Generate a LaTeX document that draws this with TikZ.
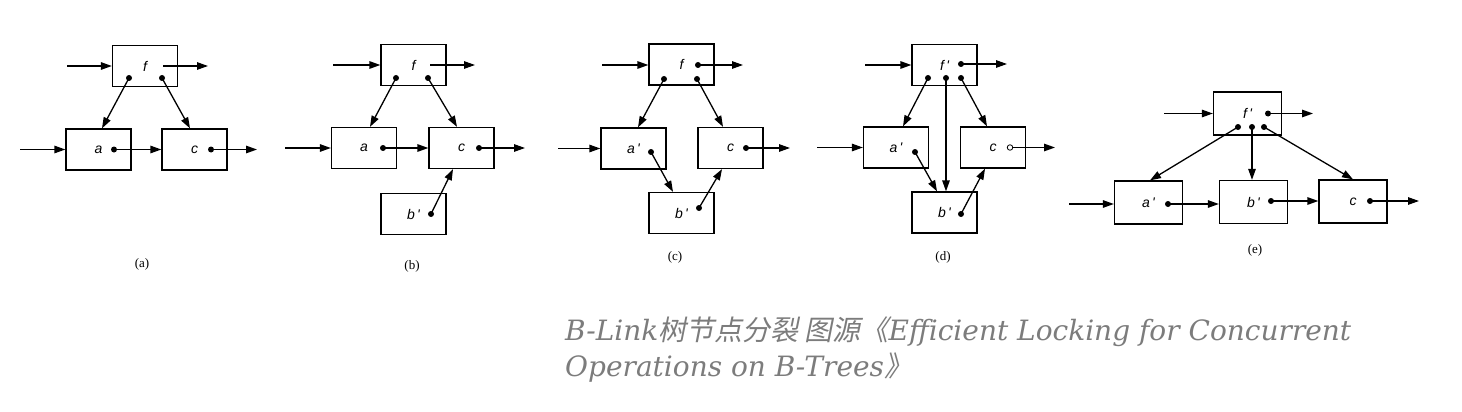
\documentclass[tikz,border=0pt]{standalone}
\usepackage{fontspec}
\setmainfont{Liberation Serif}
\newfontfamily\lblfont{Liberation Sans}
\newfontfamily\capfont{DejaVu Serif}
\newfontfamily\cjkfont[FakeSlant=0.2]{Noto Sans CJK SC}
\usetikzlibrary{arrows.meta, positioning}
\definecolor{capgray}{HTML}{7C7C7C}

\begin{document}
\begin{tikzpicture}[
  x=1pt, y=-1pt,
  box/.style={draw, line width=1.3pt, minimum width=65pt, minimum height=41pt,
              inner sep=0pt, font=\lblfont\itshape\fontsize{14}{14}\selectfont},
  wbox/.style={box, minimum width=68pt, minimum height=43pt},
  dot/.style={circle, fill, inner sep=0pt, minimum size=6pt},
  odot/.style={circle, draw, fill=white, line width=0.8pt, inner sep=0pt, minimum size=5.5pt},
  arr/.style={-{Triangle[length=11pt, width=7.5pt]}, line width=1.3pt},
  sub/.style={font=\fontsize{13}{13}\selectfont},
  caption/.style={anchor=north west, inner sep=0pt, align=left, text=capgray,
                  font=\capfont\itshape\fontsize{28}{36}\selectfont}
]
\useasboundingbox (0,0) rectangle (1462,412);

% (a)
\node[box] (fA) at (145,66) {f};
\node[box] (aA) at (98.5,149.5) {a};
\node[box] (cA) at (194.5,149.5) {c};
\node[dot] (fA1) at (129,78) {};
\node[dot] (fA2) at (162,78) {};
\node[dot] (aA1) at (114,149.5) {};
\node[dot] (cA1) at (211,149.5) {};
\coordinate (inFA) at (67,66);
\coordinate (inAA) at (20,149.5);
\coordinate (srcFA) at (163,66);
\coordinate (outFA) at (208,66);
\coordinate (outCA) at (257,149.5);
\draw[arr] (inFA) -- (inFA -| fA.west);
\draw[arr] (srcFA) -- (outFA);
\draw[arr] (fA1.center) -- ([xshift=3.5]aA.north);
\draw[arr] (fA2.center) -- ([xshift=-4.5]cA.north);
\draw[arr] (inAA) -- (inAA -| aA.west);
\draw[arr] (aA1.center) -- (aA1 -| cA.west);
\draw[arr] (cA1.center) -- (outCA);
\node[sub] (capA) at (142,264) {(a)};

% (b)
\node[box] (fB) at (413.5,65) {f};
\node[box] (aB) at (364,148) {a};
\node[box] (cB) at (461.5,148) {c};
\node[box] (bB) at (413.5,214) {b\,'};
\node[dot] (fB1) at (396,78) {};
\node[dot] (fB2) at (428,78) {};
\node[dot] (aB1) at (383,148) {};
\node[dot] (cB1) at (479,148) {};
\node[dot] (bB1) at (431,214) {};
\coordinate (inFB) at (333,65);
\coordinate (inAB) at (285,148);
\coordinate (srcFB) at (430,65);
\coordinate (outFB) at (475,65);
\coordinate (outCB) at (525,148);
\draw[arr] (inFB) -- (inFB -| fB.west);
\draw[arr] (srcFB) -- (outFB);
\draw[arr] (fB1.center) -- ([xshift=6]aB.north);
\draw[arr] (fB2.center) -- ([xshift=-4.5]cB.north);
\draw[arr] (inAB) -- (inAB -| aB.west);
\draw[arr] (aB1.center) -- (aB1 -| cB.west);
\draw[arr] (cB1.center) -- (outCB);
\draw[arr] (bB1.center) -- ([xshift=-8.5]cB.south);
\node[sub] (capB) at (412,266) {(b)};

% (c)
\node[box] (fC) at (681.5,64.5) {f};
\node[box] (aC) at (633.5,148.5) {a\,'};
\node[box] (cC) at (730.5,148) {c};
\node[box] (bC) at (681.5,213) {b\,'};
\node[dot] (fC0) at (698,65) {};
\node[dot] (fC1) at (664,79) {};
\node[dot] (fC2) at (697,79) {};
\node[dot] (aC1) at (651,152) {};
\node[dot] (cC1) at (746,148) {};
\node[dot] (bC1) at (699,208) {};
\coordinate (inFC) at (602,65);
\coordinate (inAC) at (558,148.5);
\coordinate (outFC) at (743,65);
\coordinate (outCC) at (790,148);
\draw[arr] (inFC) -- (inFC -| fC.west);
\draw[arr] (fC0.center) -- (outFC);
\draw[arr] (fC1.center) -- ([xshift=4.5]aC.north);
\draw[arr] (fC2.center) -- ([xshift=-7.5]cC.north);
\draw[arr] (inAC) -- (inAC -| aC.west);
\draw[arr] (aC1.center) -- ([xshift=-8.5]bC.north);
\draw[arr] (cC1.center) -- (outCC);
\draw[arr] (bC1.center) -- ([xshift=-8.5]cC.south);
\node[sub] (capC) at (675,257) {(c)};

% (d)
\node[box] (fD) at (944.5,65) {f\,'};
\node[box] (aD) at (896,147.5) {a\,'};
\node[box] (cD) at (993,147.5) {c};
\node[box] (bD) at (944.5,212.5) {b\,'};
\node[dot] (fD0) at (961,64) {};
\node[dot] (fD1) at (928,78) {};
\node[dot] (fD2) at (946,78) {};
\node[dot] (fD3) at (961,78) {};
\node[dot] (aD1) at (915,152) {};
\node[odot] (cD1) at (1010,147.5) {};
\node[dot] (bD1) at (961,214) {};
\coordinate (inFD) at (865,65);
\coordinate (inAD) at (817,147.5);
\coordinate (outFD) at (1007,64);
\coordinate (outCD) at (1055,147.5);
\draw[arr] (inFD) -- (inFD -| fD.west);
\draw[arr] (fD0.center) -- (outFD);
\draw[arr] (fD1.center) -- ([xshift=7]aD.north);
\draw[arr] (fD2.center) -- ([xshift=1.5]bD.north);
\draw[arr] (fD3.center) -- ([xshift=-6]cD.north);
\draw[arr] (inAD) -- (inAD -| aD.west);
\draw[arr] (aD1.center) -- ([xshift=-7.5]bD.north);
\draw[arr] (cD1) -- (outCD);
\draw[arr] (bD1.center) -- ([xshift=-8]cD.south);
\node[sub] (capD) at (943,257) {(d)};

% (e)
\node[wbox] (fE) at (1247.5,113.5) {f\,'};
\node[wbox] (aE) at (1148.5,202.5) {a\,'};
\node[wbox] (bE) at (1253.5,202) {b\,'};
\node[wbox] (cE) at (1353,201.5) {c};
\node[dot] (fE0) at (1268,113.5) {};
\node[dot] (fE1) at (1238,127) {};
\node[dot] (fE2) at (1252,127) {};
\node[dot] (fE3) at (1264,127) {};
\node[dot] (aE1) at (1168,204) {};
\node[dot] (bE1) at (1271,201) {};
\node[dot] (cE1) at (1370,201) {};
\coordinate (inFE) at (1164,113.5);
\coordinate (inAE) at (1069,204);
\coordinate (outFE) at (1313,113.5);
\coordinate (outCE) at (1419,201);
\draw[arr] (inFE) -- (inFE -| fE.west);
\draw[arr] (fE0.center) -- (outFE);
\draw[arr] (fE1.center) -- ([xshift=1.5]aE.north);
\draw[arr] (fE2.center) -- ([xshift=-1.5]bE.north);
\draw[arr] (fE3.center) -- (cE.north);
\draw[arr] (inAE) -- (inAE -| aE.west);
\draw[arr] (aE1.center) -- (aE1 -| bE.west);
\draw[arr] (bE1.center) -- (bE1 -| cE.west);
\draw[arr] (cE1.center) -- (outCE);
\node[sub] (capE) at (1255,250) {(e)};

% caption
\node[caption] (title) at (565,317)
  {B-Link{\cjkfont 树节点分裂 图源《}Efficient Locking for Concurrent\\
   Operations on B-Trees{\cjkfont 》}};
\end{tikzpicture}
\end{document}
